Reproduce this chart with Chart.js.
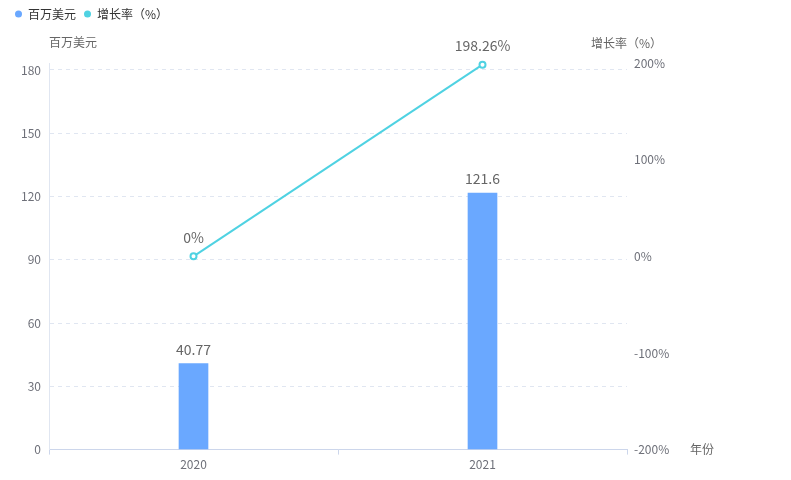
<!DOCTYPE html>
<html>
<head>
<meta charset="utf-8">
<script src="https://cdn.jsdelivr.net/npm/chart.js@4.4.1/dist/chart.umd.min.js"></script>
<style>
  html, body { margin: 0; padding: 0; background: #ffffff; }
  #wrap { width: 791px; height: 480px; }
</style>
</head>
<body>
<div id="wrap"><canvas id="c" width="791" height="480"></canvas></div>
<script>
// Annual amount (million USD) and year-on-year growth rate
const years = ['2020', '2021'];
const amount = [40.77, 121.6];
const growth = [0, 198.26];

const seriesNames = ['百万美元', '增长率（%）'];
const leftTitle = '百万美元';
const rightTitle = '增长率（%）';
const xTitle = '年份';

const FONT = "'Microsoft YaHei', 'Noto Sans CJK SC', sans-serif";
const BAR_COLOR = '#6aa8ff';
const LINE_COLOR = '#4fd2e2';
const TICK_COLOR = '#6e7079';
const LEGEND_BLOCK = 63; // height reserved above the plot (legend + axis titles)

// Reserve room under the legend for the axis titles
const legendSpace = {
  id: 'legendSpace',
  beforeLayout(chart) {
    const lg = chart.legend;
    if (lg && !lg._spaced) {
      const fit = lg.fit.bind(lg);
      lg.fit = function () { fit(); this.height = LEGEND_BLOCK; };
      lg._spaced = true;
    }
  }
};

// Value labels above the marks plus the horizontal axis titles
const annotate = {
  id: 'annotate',
  afterDatasetsDraw(chart) {
    const ctx = chart.ctx;
    ctx.save();
    ctx.font = '14px ' + FONT;
    ctx.fillStyle = '#666666';
    ctx.textAlign = 'center';
    ctx.textBaseline = 'middle';
    chart.data.datasets.forEach((ds, i) => {
      const meta = chart.getDatasetMeta(i);
      meta.data.forEach((el, j) => {
        const v = ds.data[j];
        const txt = ds.type === 'line' ? v + '%' : String(v);
        const off = ds.type === 'line' ? 19 : 14;
        ctx.fillText(txt, el.x, el.y - off);
      });
    });
    const area = chart.chartArea;
    ctx.font = '12px ' + FONT;
    ctx.fillStyle = '#666666';
    ctx.textAlign = 'left';
    ctx.fillText(leftTitle, area.left, 42);
    ctx.fillText(rightTitle, 591, 43);
    ctx.fillText(xTitle, 690, area.bottom);
    ctx.restore();
  }
};

new Chart(document.getElementById('c'), {
  data: {
    labels: years,
    datasets: [
      {
        type: 'line',
        label: seriesNames[1],
        data: growth,
        yAxisID: 'y1',
        borderColor: LINE_COLOR,
        backgroundColor: LINE_COLOR,
        borderWidth: 2,
        pointRadius: 3,
        pointBorderWidth: 2,
        pointBackgroundColor: '#ffffff',
        pointBorderColor: LINE_COLOR,
        tension: 0,
        clip: false,
        order: 0
      },
      {
        type: 'bar',
        label: seriesNames[0],
        data: amount,
        yAxisID: 'y',
        backgroundColor: BAR_COLOR,
        borderWidth: 0,
        barThickness: 29,
        order: 1
      }
    ]
  },
  options: {
    responsive: false,
    animation: false,
    layout: { padding: { top: 0, left: 7, right: 0, bottom: 5 } },
    plugins: {
      legend: {
        position: 'top',
        align: 'start',
        reverse: true,
        labels: {
          usePointStyle: true,
          pointStyle: 'circle',
          pointStyleWidth: 7,
          boxHeight: 5,
          padding: 8,
          color: '#333333',
          font: { size: 12, family: FONT },
          generateLabels(chart) {
            const items = Chart.defaults.plugins.legend.labels.generateLabels(chart);
            items.forEach(it => {
              const ds = chart.data.datasets[it.datasetIndex];
              it.fillStyle = ds.type === 'line' ? LINE_COLOR : BAR_COLOR;
              it.strokeStyle = it.fillStyle;
              it.lineWidth = 0;
              it.pointStyle = 'circle';
            });
            return items;
          }
        }
      },
      tooltip: { enabled: false }
    },
    scales: {
      x: {
        offset: true,
        grid: {
          offset: true,
          drawOnChartArea: false,
          drawTicks: true,
          tickLength: 5,
          color: '#ccd6eb'
        },
        border: { display: true, color: '#ccd6eb' },
        ticks: { color: TICK_COLOR, padding: 3, font: { size: 12, family: FONT } }
      },
      y: {
        position: 'left',
        min: 0,
        max: 183.3,
        afterFit(s) { s.width = 42; },
        ticks: {
          stepSize: 30,
          includeBounds: false,
          padding: 8,
          color: TICK_COLOR,
          font: { size: 12, family: FONT }
        },
        grid: {
          drawTicks: false,
          color: '#e0e6f1',
          lineWidth: 1
        },
        border: { display: true, color: '#e0e6f1', dash: [4, 4] }
      },
      y1: {
        position: 'right',
        min: -200,
        max: 200,
        afterFit(s) { s.width = 164; },
        ticks: {
          stepSize: 100,
          padding: 7,
          color: TICK_COLOR,
          font: { size: 12, family: FONT },
          callback: v => v + '%'
        },
        grid: { drawOnChartArea: false, drawTicks: false },
        border: { display: false }
      }
    }
  },
  plugins: [legendSpace, annotate]
});
</script>
</body>
</html>
